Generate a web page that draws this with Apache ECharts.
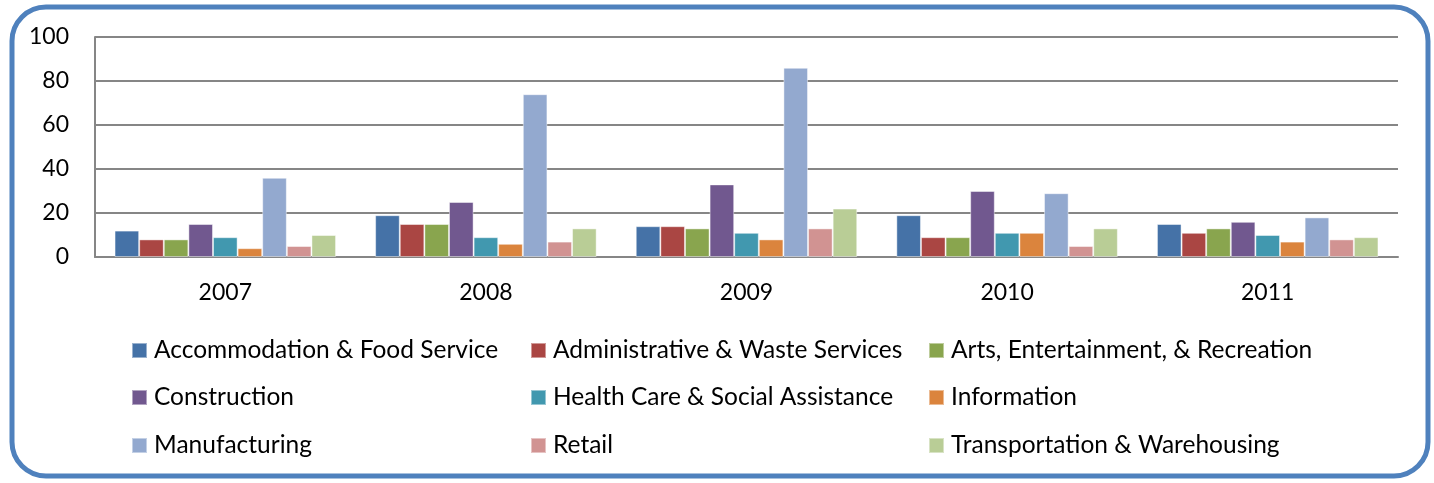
<!DOCTYPE html>
<html>
<head>
<meta charset="utf-8">
<script src="https://cdn.jsdelivr.net/npm/echarts@6/dist/echarts.min.js"></script>
<style>
  html, body { margin: 0; padding: 0; background: #fff; }
  #chart { width: 1434px; height: 483px; }
</style>
</head>
<body>
<div id="chart"></div>
<script>
var years = ['2007', '2008', '2009', '2010', '2011'];
var seriesNames = [
    'Accommodation & Food Service', 'Administrative & Waste Services', 'Arts, Entertainment, & Recreation',
    'Construction', 'Health Care & Social Assistance', 'Information',
    'Manufacturing', 'Retail', 'Transportation & Warehousing'
];
var accommodation = [12, 19, 14, 19, 15];
var administrative = [8, 15, 14, 9, 11];
var arts = [8, 15, 13, 9, 13];
var construction = [15, 25, 33, 30, 16];
var healthCare = [9, 9, 11, 11, 10];
var information = [4, 6, 8, 11, 7];
var manufacturing = [36, 74, 86, 29, 18];
var retail = [5, 7, 13, 5, 8];
var transportation = [10, 13, 22, 13, 9];
var yTicks = [0, 20, 40, 60, 80, 100];

var allValues = [accommodation, administrative, arts, construction, healthCare, information, manufacturing, retail, transportation];
var colors = ['#4572a7', '#aa4643', '#89a54e', '#71588f', '#4198af', '#db843d', '#93a9cf', '#d19392', '#b9cd96'];
var font = 'Lato';

// legend: 3 columns x 3 rows, one legend per item so columns line up
var colX = [131, 530, 928];
var rowY = [338, 385, 433];
var legends = [];
for (var i = 0; i < seriesNames.length; i++) {
    legends.push({
        data: [seriesNames[i]],
        left: colX[i % 3],
        top: rowY[Math.floor(i / 3)],
        itemWidth: 15,
        itemHeight: 15,
        itemGap: 0,
        padding: 0,
        icon: 'rect',
        selectedMode: false,
        textStyle: { fontFamily: font, fontSize: 24.5, color: '#000', padding: [0, 0, 0, 2] }
    });
}

var series = [];
for (var j = 0; j < seriesNames.length; j++) {
    series.push({
        name: seriesNames[j],
        type: 'bar',
        data: allValues[j],
        barGap: '0%',
        barCategoryGap: '15%',
        itemStyle: { color: colors[j], borderColor: 'rgba(255,255,255,0.45)', borderWidth: 1 }
    });
}

var chart = echarts.init(document.getElementById('chart'));
chart.setOption({
    animation: false,
    grid: { left: 95, right: 36, top: 37, bottom: 226, containLabel: false },
    legend: legends,
    xAxis: {
        type: 'category',
        data: years,
        axisLine: { lineStyle: { color: '#868686', width: 2 } },
        axisTick: { show: false },
        axisLabel: { fontFamily: font, fontSize: 23, color: '#000', margin: 24 }
    },
    yAxis: {
        type: 'value',
        min: yTicks[0],
        max: yTicks[yTicks.length - 1],
        interval: 20,
        axisLine: { show: true, lineStyle: { color: '#868686', width: 2 } },
        axisTick: { show: false },
        splitLine: { lineStyle: { color: '#868686', width: 2 } },
        axisLabel: { fontFamily: font, fontSize: 23, color: '#000', margin: 26 }
    },
    graphic: [{
        type: 'rect',
        shape: { x: 12, y: 7, width: 1416, height: 469, r: 34 },
        style: { fill: 'none', stroke: '#4f81bd', lineWidth: 5 },
        silent: true
    }],
    series: series
});
</script>
</body>
</html>
